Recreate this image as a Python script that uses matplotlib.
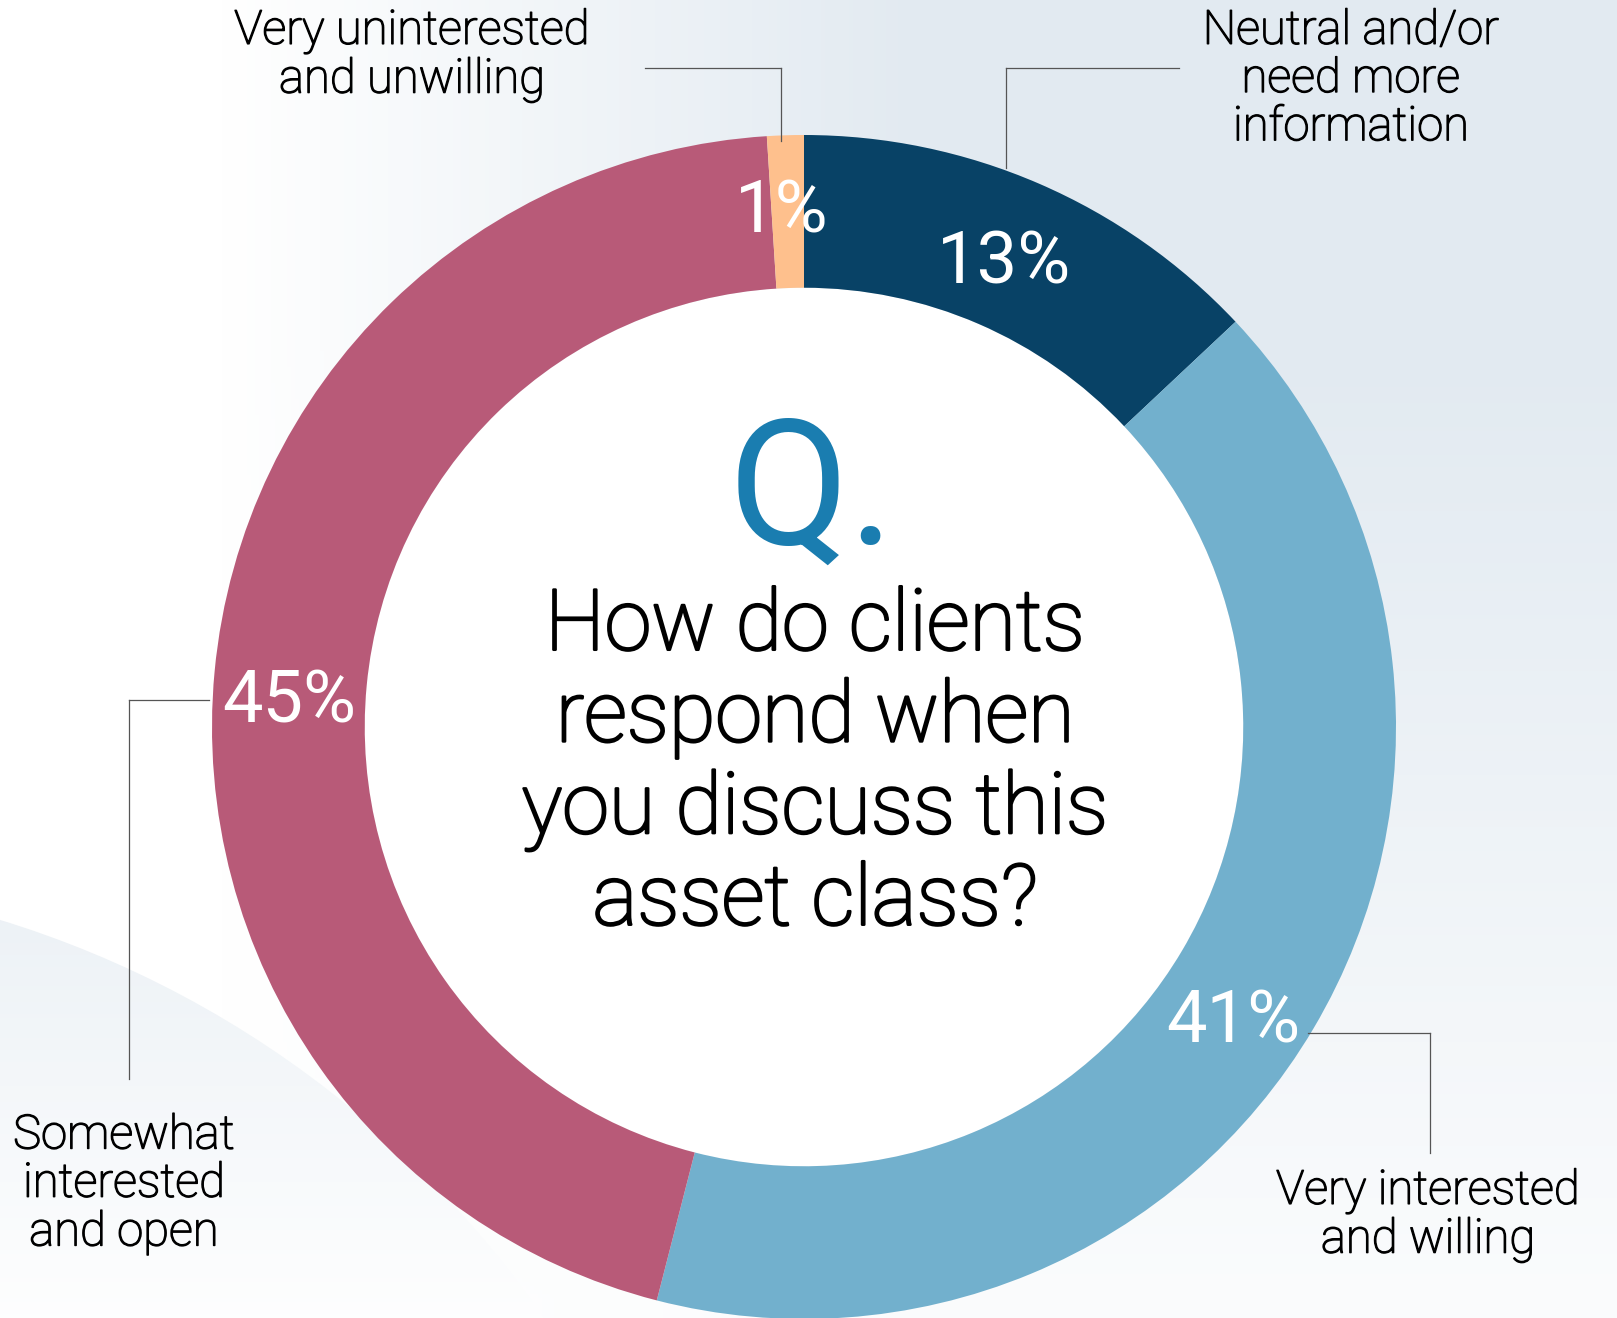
import numpy as np
import matplotlib
matplotlib.use("Agg")
import matplotlib.pyplot as plt
from matplotlib.patches import Circle
import matplotlib.patheffects as pe

# ---- data ----
categories = ["Neutral and/or\nneed more\ninformation",
              "Very interested\nand willing",
              "Somewhat\ninterested\nand open",
              "Very uninterested\nand unwilling"]
values = [13, 41, 45, 1]
pct_labels = ["13%", "41%", "45%", "1%"]
colors = ["#084266", "#72b0cd", "#b85a78", "#fec08d"]
question = "How do clients\nrespond when\nyou discuss this\nasset class?"

W, H = 1617, 1318
plt.rcParams['font.family'] = ['Roboto', 'DejaVu Sans']
fig = plt.figure(figsize=(W / 100, H / 100), dpi=100)

# ---- background ----
bg = fig.add_axes([0, 0, 1, 1])
bg.set_xlim(0, W)
bg.set_ylim(H, 0)
bg.axis('off')
xx, yy = np.meshgrid(np.linspace(0, W, 400), np.linspace(0, H, 330))
t = np.clip((xx - 220) / 700, 0, 1) * (1 - 0.85 * np.clip((yy - 350) / 950, 0, 1))
blue = np.array([226, 234, 241]) / 255
white = np.ones(3)
img = white[None, None, :] * (1 - t[..., None]) + blue[None, None, :] * t[..., None]
bg.imshow(img, extent=(0, W, H, 0), aspect='auto', zorder=0)
# lower-left bluish disc
cx, cy, r = -300, 1900, 1025
t2 = np.clip(1 - (yy - 900) / 450, 0, 1) * 0.65
img2 = white[None, None, :] * (1 - t2[..., None]) + blue[None, None, :] * t2[..., None]
im2 = bg.imshow(img2, extent=(0, W, H, 0), aspect='auto', zorder=1)
clip = Circle((cx, cy), r, transform=bg.transData, facecolor='none', edgecolor='none')
bg.add_patch(clip)
im2.set_clip_path(clip)

# ---- donut ----
ax = fig.add_axes([0, 0, 1, 1])
ax.patch.set_alpha(0)
CX, CY, R = 804, 727, 592
def Y(y):
    return H - y
ax.pie(values, colors=colors, startangle=90, counterclock=False,
       radius=R, center=(CX, Y(CY)), wedgeprops=dict(width=0.258 * R, linewidth=0))
ax.add_patch(Circle((CX, Y(CY)), R * 0.742, facecolor='white', edgecolor='none', zorder=0))
ax.set_xlim(0, W)
ax.set_ylim(0, H)
ax.set_aspect('auto')
ax.axis('off')

# percent labels
pct_pos = [(1004, 264), (1233, 1023), (289, 703), (782, 213)]
for lab, (px, py) in zip(pct_labels, pct_pos):
    ax.text(px, Y(py), lab, color='white', fontsize=52, ha='center', va='center')

# category labels
lab_pos = [(1351, 79), (1428, 1215), (124, 1184), (412, 55)]
for lab, (px, py) in zip(categories, lab_pos):
    ax.text(px, Y(py), lab, color='black', fontsize=34, fontweight='light',
            ha='center', va='center', linespacing=1.12,
            path_effects=[pe.withStroke(linewidth=1.0, foreground='black')])

# leader lines
lc = dict(color='#555555', lw=0.9)
ax.plot([1006, 1179], [Y(68), Y(68)], **lc)
ax.plot([1006, 1006], [Y(68), Y(168)], **lc)
ax.plot([645, 781], [Y(68), Y(68)], **lc)
ax.plot([781, 781], [Y(68), Y(141)], **lc)
ax.plot([129, 209], [Y(700), Y(700)], **lc)
ax.plot([129, 129], [Y(700), Y(1079)], **lc)
ax.plot([1308, 1430], [Y(1033), Y(1033)], **lc)
ax.plot([1430, 1430], [Y(1033), Y(1153)], **lc)

# center text
ax.text(812, Y(496), "Q.", color='#1a7db0', fontsize=126, fontweight='normal',
        ha='center', va='center')
ax.text(815, Y(764), question, color='black', fontsize=61, fontweight='light',
        ha='center', va='center', linespacing=1.15,
        path_effects=[pe.withStroke(linewidth=1.8, foreground='black')])

fig.savefig("out.png", dpi=100)
